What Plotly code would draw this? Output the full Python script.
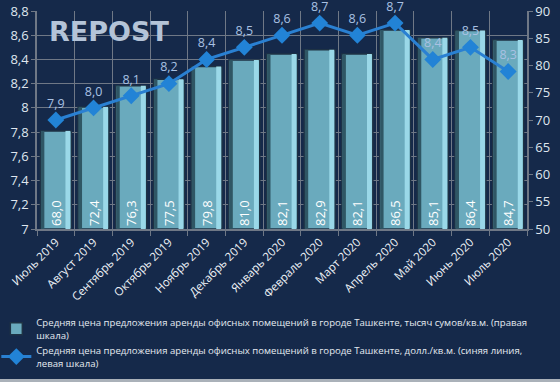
import plotly.graph_objects as go

months = ["Июль 2019", "Август 2019", "Сентябрь 2019", "Октябрь 2019", "Ноябрь 2019",
          "Декабрь 2019", "Январь 2020", "Февраль 2020", "Март 2020", "Апрель 2020",
          "Май 2020", "Июнь 2020", "Июль 2020"]
sum_vals = [68.0, 72.4, 76.3, 77.5, 79.8, 81.0, 82.1, 82.9, 82.1, 86.5, 85.1, 86.4, 84.7]
usd_vals = [7.9, 8.0, 8.1, 8.2, 8.4, 8.5, 8.6, 8.7, 8.6, 8.7, 8.4, 8.5, 8.3]
left_ticks = [7.0, 7.2, 7.4, 7.6, 7.8, 8.0, 8.2, 8.4, 8.6, 8.8]
left_ticktext = ["7", "7,2", "7,4", "7,6", "7,8", "8", "8,2", "8,4", "8,6", "8,8"]
right_ticks = [50, 55, 60, 65, 70, 75, 80, 85, 90]
RIGHT_MIN = 50

name_bar = ("Средняя цена предложения аренды офисных помещений в городе Ташкенте, тысяч сумов/кв.м. (правая"
            "<br>шкала)")
name_line = ("Средняя цена предложения аренды офисных помещений в городе Ташкенте, долл./кв.м. (синяя линия,"
             "<br>левая шкала)")

BG = "#15294a"
GRID = "#6f7886"
FONT = "Open Sans"

heights = [v - RIGHT_MIN for v in sum_vals]

fig = go.Figure()
fig.add_trace(go.Bar(
    x=months, y=heights, base=RIGHT_MIN,
    name=name_bar, yaxis="y",
    width=0.82, offset=-0.41,
    marker=dict(color="#6aaabd", line=dict(color="#1e3244", width=1.5)),
    text=[f"{v:.1f}".replace(".", ",") for v in sum_vals],
    textposition="inside", insidetextanchor="start", textangle=-90,
    insidetextfont=dict(color="white", size=13, family=FONT),
    constraintext="none",
))
# bevel shading of the bars (dark left face, light right face)
fig.add_trace(go.Bar(
    x=months, y=heights, base=RIGHT_MIN, yaxis="y", showlegend=False, hoverinfo="skip",
    width=0.09, offset=-0.395, marker=dict(color="#2f5664", line=dict(width=0)),
))
fig.add_trace(go.Bar(
    x=months, y=heights, base=RIGHT_MIN, yaxis="y", showlegend=False, hoverinfo="skip",
    width=0.13, offset=0.255, marker=dict(color="#9ad8e8", line=dict(width=0)),
))
fig.add_trace(go.Scatter(
    x=months, y=usd_vals, name=name_line, yaxis="y2",
    mode="lines+markers+text",
    line=dict(color="#2a80d2", width=3),
    marker=dict(symbol="diamond", size=13, color="#2283d6"),
    text=[f"{v:.1f}".replace(".", ",") for v in usd_vals],
    textposition="top center",
    textfont=dict(color="#a9c1e3", size=12.5, family=FONT),
    cliponaxis=False,
))

fig.add_annotation(
    text="<b>REPOST</b>", xref="paper", yref="paper", x=0.02, y=0.905,
    xanchor="left", yanchor="middle", showarrow=False,
    font=dict(family="DejaVu Sans", size=27, color="#b4c4d8"),
)

fig.add_shape(type="rect", xref="paper", yref="paper",
              x0=-0.1, x1=1.1, y0=(229 - 382) / 218, y1=(229 - 379) / 218,
              fillcolor="#aab1b9", line=dict(width=0), layer="above")

fig.update_layout(
    template="none",
    width=560, height=382,
    margin=dict(l=37, r=33, t=11, b=153, autoexpand=False),
    paper_bgcolor=BG, plot_bgcolor=BG,
    separators=", ",
    barmode="overlay",
    showlegend=True,
    legend=dict(x=-0.083, y=-0.37, xanchor="left", yanchor="top",
                font=dict(family=FONT, size=9.6, color="#e4e9f0"),
                bgcolor="rgba(0,0,0,0)", tracegroupgap=0, itemwidth=30),
    xaxis=dict(
        type="category", tickangle=-45, tickson="boundaries", automargin=False,
        showgrid=True, gridcolor=GRID, gridwidth=1,
        showline=True, linecolor=GRID, linewidth=2,
        ticks="outside", ticklen=5, tickcolor=GRID,
        tickfont=dict(family=FONT, size=11.5, color="#eef2f7"),
        range=[-0.5, 12.5],
    ),
    yaxis=dict(
        side="right", range=[50, 90], tickvals=right_ticks, automargin=False,
        showgrid=False, showline=True, linecolor=GRID, linewidth=1.5,
        ticks="outside", ticklen=4, tickcolor=GRID,
        tickfont=dict(family=FONT, size=13, color="#dfe6ee"),
        zeroline=False,
    ),
    yaxis2=dict(
        overlaying="y", side="left", range=[7.0, 8.8], automargin=False,
        tickvals=left_ticks, ticktext=left_ticktext,
        showgrid=True, gridcolor=GRID, gridwidth=1,
        showline=True, linecolor=GRID, linewidth=1.5,
        ticks="outside", ticklen=4, tickcolor=GRID,
        tickfont=dict(family=FONT, size=13, color="#dfe6ee"),
        zeroline=False,
    ),
)

fig.write_html("out.html", config={"displayModeBar": False},
               post_script="document.body.style.margin='0';")
